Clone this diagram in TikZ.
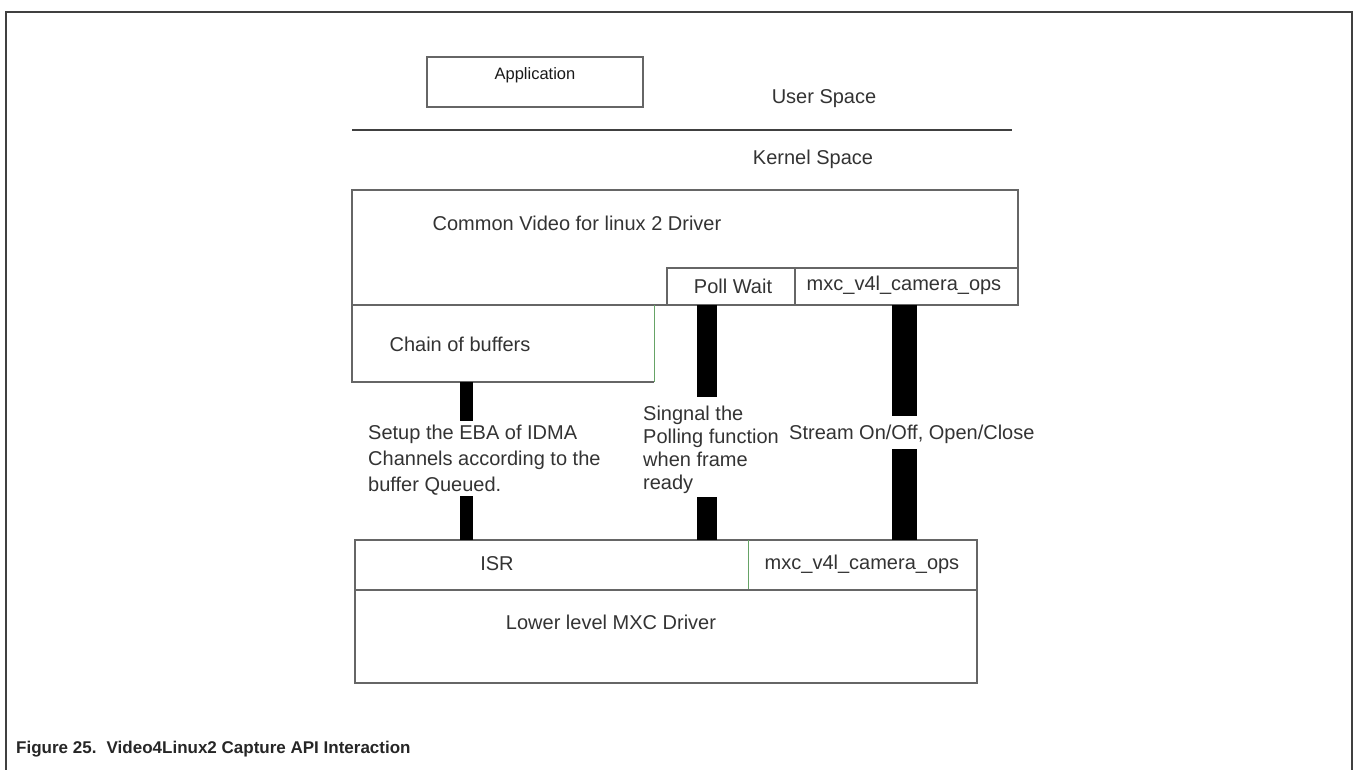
\documentclass[tikz,border=0pt]{standalone}
\usepackage{fontspec}
\setmainfont{Liberation Sans}
\begin{document}
\begin{tikzpicture}[x=1pt, y=1pt,
		box/.style={draw=black!60, line width=1.1pt},
		thin/.style={draw=black!60!green!60, line width=0.8pt},
		bar/.style={draw=black, line width=#1},
		lbl/.style={font=\fontsize{20}{23}\selectfont, text=black!80, inner sep=0pt},
	]
	\useasboundingbox (0,0) rectangle (1353,-770);

	% frame
	\draw[draw=black!75, line width=2pt] (6,-770) -- (6,-12) -- (1352,-12) -- (1352,-770);

	\coordinate (a1) at (427,-57);   \coordinate (a2) at (643,-107);
	\coordinate (c1) at (352,-190);  \coordinate (c2) at (1018,-305);
	\coordinate (p1) at (667,-268);  \coordinate (p2) at (795,-305);
	\coordinate (o1) at (795,-268);  \coordinate (o2) at (1018,-305);
	\coordinate (b1) at (352,-305);  \coordinate (b2) at (654,-382);
	\coordinate (i1) at (355,-540);  \coordinate (i2) at (748,-590);
	\coordinate (m1) at (748,-540);  \coordinate (m2) at (977,-590);
	\coordinate (l1) at (355,-590);  \coordinate (l2) at (977,-683);

	% user / kernel
	\draw[box] (a1) rectangle (a2);
	\node[lbl, font=\fontsize{16.5}{19}\selectfont, text=black!90] (app) at (535,-75) {Application};
	\node[lbl] (user) at (824,-99) {User Space};
	\draw[draw=black!75, line width=1.1pt] (352,-130) -- (1012,-130);
	\node[lbl] (kernel) at (813,-159) {Kernel Space};

	% v4l2 driver
	\draw[box] (c1) rectangle (c2);
	\node[lbl] (common) at (577,-223) {Common Video for linux 2 Driver};
	\draw[box] (p1) rectangle (p2);
	\node[lbl] (poll) at (733,-286) {Poll Wait};
	\draw[box] (o1) rectangle (o2);
	\node[lbl] (opstop) at (904,-285) {mxc\_v4l\_camera\_ops};
	\draw[box] (b1) -- (b2 |- b1);
	\draw[box] (b1) -- (b1 |- b2) -- (b2);
	\draw[thin] (b2 |- b1) -- (b2);
	\node[lbl] (chain) at (460,-344) {Chain of buffers};

	% low level driver
	\draw[box] (i1) rectangle (m2);
	\draw[thin] (m1) -- (i2);
	\node[lbl] (isr) at (497,-564) {ISR};
	\node[lbl] (opsbot) at (862,-564) {mxc\_v4l\_camera\_ops};
	\draw[box] (l1) rectangle (l2);
	\node[lbl] (lower) at (611,-622) {Lower level MXC Driver};

	% labels on the bars
	\node[lbl, align=left, anchor=west, font=\fontsize{20}{26}\selectfont] (setup) at (368,-460)
		{Setup the EBA of IDMA\\Channels according to the\\buffer Queued.};
	\node[lbl, align=left, anchor=west] (signal) at (643,-449.5)
		{Singnal the\\Polling function\\when frame\\ready};
	\node[lbl, anchor=west] (stream) at (789,-434) {Stream On/Off, Open/Close};

	\coordinate (s1) at (466,-382);   \coordinate (s2) at (466,-421);
	\coordinate (s3) at (466,-496);   \coordinate (s4) at (466,-540);
	\coordinate (q1) at (707,-305);   \coordinate (q2) at (707,-397);
	\coordinate (q3) at (707,-497);   \coordinate (q4) at (707,-540);
	\coordinate (r1) at (904.5,-305); \coordinate (r2) at (904.5,-416);
	\coordinate (r3) at (904.5,-449); \coordinate (r4) at (904.5,-540);

	\draw[bar=13pt] (s1) -- (s2);
	\draw[bar=13pt] (s3) -- (s4);
	\draw[bar=20pt] (q1) -- (q2);
	\draw[bar=20pt] (q3) -- (q4);
	\draw[bar=25pt] (r1) -- (r2);
	\draw[bar=25pt] (r3) -- (r4);

	% caption
	\node[anchor=base west, inner sep=0pt, font=\fontsize{17}{20}\selectfont\bfseries, text=black!85] (caption) at (16,-753)
		{Figure 25.\hspace{0.6em}Video4Linux2 Capture API Interaction};
\end{tikzpicture}
\end{document}
